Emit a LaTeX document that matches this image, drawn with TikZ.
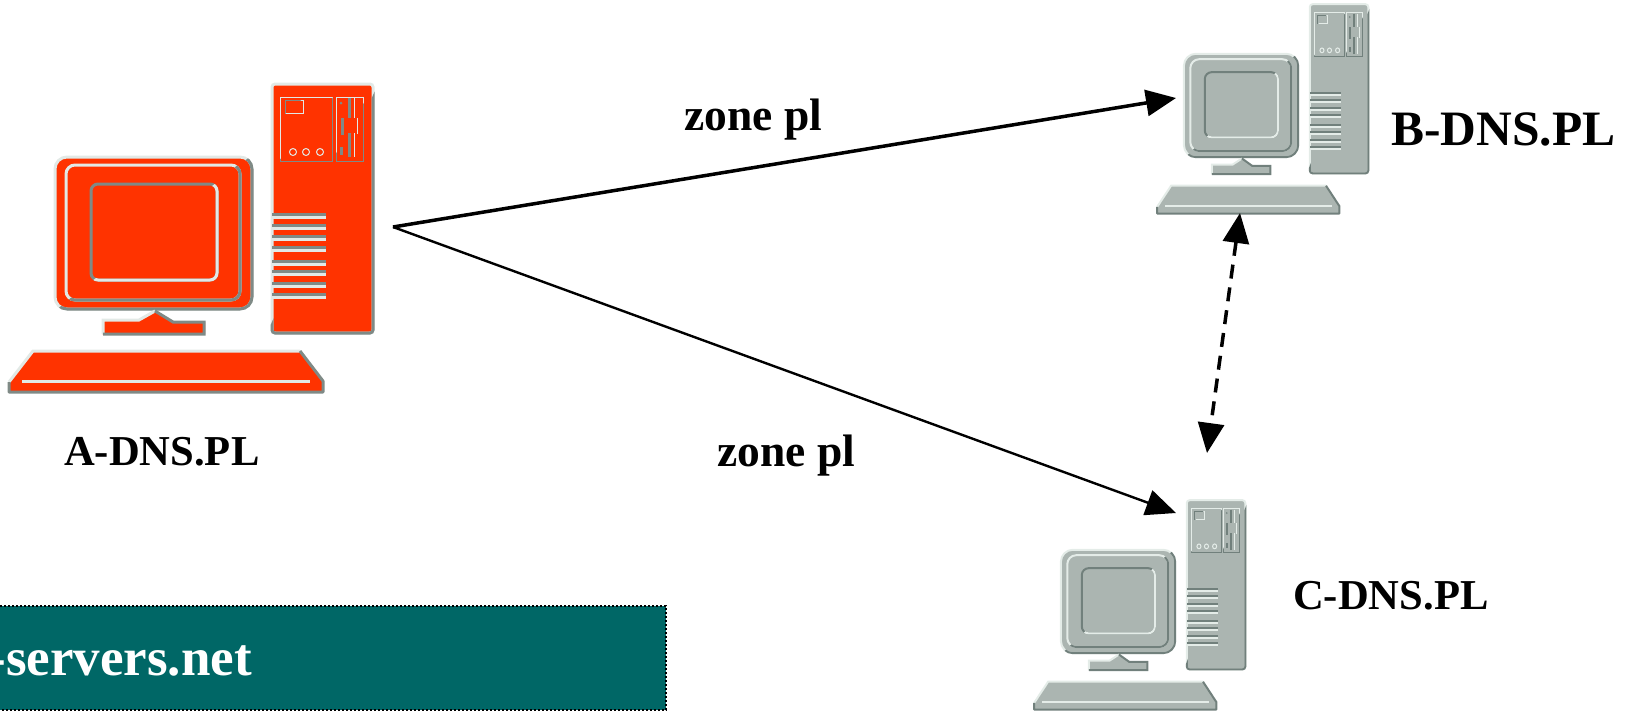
\documentclass[tikz,border=0pt]{standalone}
\usepackage{fontspec}
\setmainfont{Liberation Serif}
\usetikzlibrary{arrows.meta}

\definecolor{pcred}{HTML}{FF3300}
\definecolor{pcredlite}{HTML}{E2E9E6}
\definecolor{pcreddark}{HTML}{7F8A86}
\definecolor{pcgrey}{HTML}{ABB5B1}
\definecolor{pcgreylite}{HTML}{E4ECE8}
\definecolor{pcgreydark}{HTML}{71807C}
\definecolor{barteal}{HTML}{006766}

% bevelled rounded box: x1 y1 x2 y2 radius top-left-style bottom-right-style
\newcommand{\bevelbox}[7]{
  \draw[#6,rounded corners=#5pt] (#1,#2) rectangle (#3,#4);
  \begin{scope}
    \clip (#1-9,#4+9) -- (#3+9,#4+9) -- (#3+9,#2-9) -- cycle;
    \draw[#7,rounded corners=#5pt] (#1,#2) rectangle (#3,#4);
  \end{scope}
}

\tikzset{
  red look/.style={body/.style={fill=pcred},lite/.style={draw=pcredlite,line width=3pt},
    dark/.style={draw=pcreddark,line width=3pt},fine/.style={draw=pcredlite,line width=1pt},
    finedark/.style={draw=pcreddark,line width=1pt},speck/.style={fill=pcreddark}},
  grey look/.style={body/.style={fill=pcgrey},lite/.style={draw=pcgreylite,line width=2pt},
    dark/.style={draw=pcgreydark,line width=2pt},fine/.style={draw=pcgreylite,line width=1pt},
    finedark/.style={draw=pcgreydark,line width=1pt},speck/.style={fill=pcgreydark}},
  computer/.pic={
    % tower
    \fill[body,rounded corners=3pt] (272,84) rectangle (373,333);
    \bevelbox{272}{84}{373}{333}{3}{lite}{dark}
    \bevelbox{280}{97}{332}{161}{0}{fine}{finedark}
    \bevelbox{336}{97}{363}{161}{0}{fine}{finedark}
    \bevelbox{285}{100}{303}{113}{0}{finedark}{fine}
    \foreach \cx in {293,306,320}
      \draw[fine] (\cx,152) circle (3.5);
    \fill[speck] (341,103) circle (1.5);
    \foreach \bx/\ya/\yb in {349/98/118,342/118/135,349/133/157,341/147/155}
      \draw[dark] (\bx,\ya) -- (\bx,\yb);
    \foreach \bx/\ya/\yb in {354/98/118,357/118/134,354/133/157}
      \draw[fine] (\bx,\ya) -- (\bx,\yb);
    \foreach \vy in {216,227,238,249,263,273,285,296}{
      \draw[dark] (272,\vy-1.5) -- (326,\vy-1.5);
      \draw[lite] (272,\vy+1.5) -- (326,\vy+1.5);
    }
    % monitor
    \fill[body,rounded corners=12pt] (55,157) rectangle (252,309);
    \bevelbox{55}{157}{252}{309}{12}{lite}{dark}
    \bevelbox{66}{165}{240}{300}{9}{lite}{dark}
    \bevelbox{91}{184}{217}{280}{7}{dark}{lite}
    % foot
    \fill[body] (102,320) -- (139,320) -- (155,311) -- (173,322) -- (205,322) -- (205,334) -- (102,334) -- cycle;
    \draw[lite] (103,334) -- (103,320) -- (139,320) -- (155,311);
    \draw[dark] (155,311) -- (173,322) -- (204,322) -- (204,334) -- (103,334);
    % keyboard
    \fill[body] (33,351) -- (300,351) -- (323,381) -- (323,392) -- (9,392) -- (9,381) -- cycle;
    \draw[lite] (9,382) -- (33,351) -- (300,351);
    \draw[dark,line join=round] (300,351) -- (323,381) -- (323,392) -- (9,392) -- (9,382);
    \draw[lite] (22,381) -- (310,381);
  },
  hostlabel/.style={anchor=base west,inner sep=0pt,font=\bfseries\fontsize{42.6}{42.6}\selectfont},
  zonelabel/.style={hostlabel,font=\bfseries\fontsize{45.5}{45.5}\selectfont},
  link/.style={draw=black,-{Triangle[length=30pt,width=26pt]}},
}

\begin{document}
\begin{tikzpicture}[x=1pt,y=-1pt]
  \path[use as bounding box,clip] (0,0) rectangle (1625,710);

  \pic[red look] at (0,0) {computer};
  \pic[grey look,xscale=.58,yscale=.68] at (1152,-53) {computer};
  \pic[grey look,xscale=.58,yscale=.68] at (1029,443) {computer};

  \coordinate (Aout) at (393,227);
  \coordinate (Bin) at (1176,98);
  \coordinate (Cin) at (1176,513);
  \coordinate (Bkey) at (1240,213);
  \coordinate (Cup) at (1207,453);

  \draw[link,line width=3.5pt] (Aout) -- (Bin);
  \draw[link,line width=2.4pt] (Aout) -- (Cin);
  \draw[draw=black,line width=3.5pt,dash pattern=on 14pt off 9pt,
    {Triangle[length=30pt,width=26pt]}-{Triangle[length=30pt,width=26pt]}] (Bkey) -- (Cup);

  \node[hostlabel] (hostA) at (64,465) {A-DNS.PL};
  \node[hostlabel,font=\bfseries\fontsize{49.5}{49.5}\selectfont] (hostB) at (1391,145) {B-DNS.PL};
  \node[hostlabel] (hostC) at (1293,609) {C-DNS.PL};
  \node[zonelabel] (zoneB) at (684,130) {zone pl};
  \node[zonelabel] (zoneC) at (717,466) {zone pl};

  \node[draw=black,fill=barteal,line width=2.5pt,dash pattern=on 2pt off 2pt,inner sep=0pt,
    minimum width=676pt,minimum height=104pt] (bar) at (328,658) {};
  \node[hostlabel,anchor=base east,text=white,font=\bfseries\fontsize{53}{53}\selectfont] (servers) at (252,675) {t-servers.net};
\end{tikzpicture}
\end{document}
